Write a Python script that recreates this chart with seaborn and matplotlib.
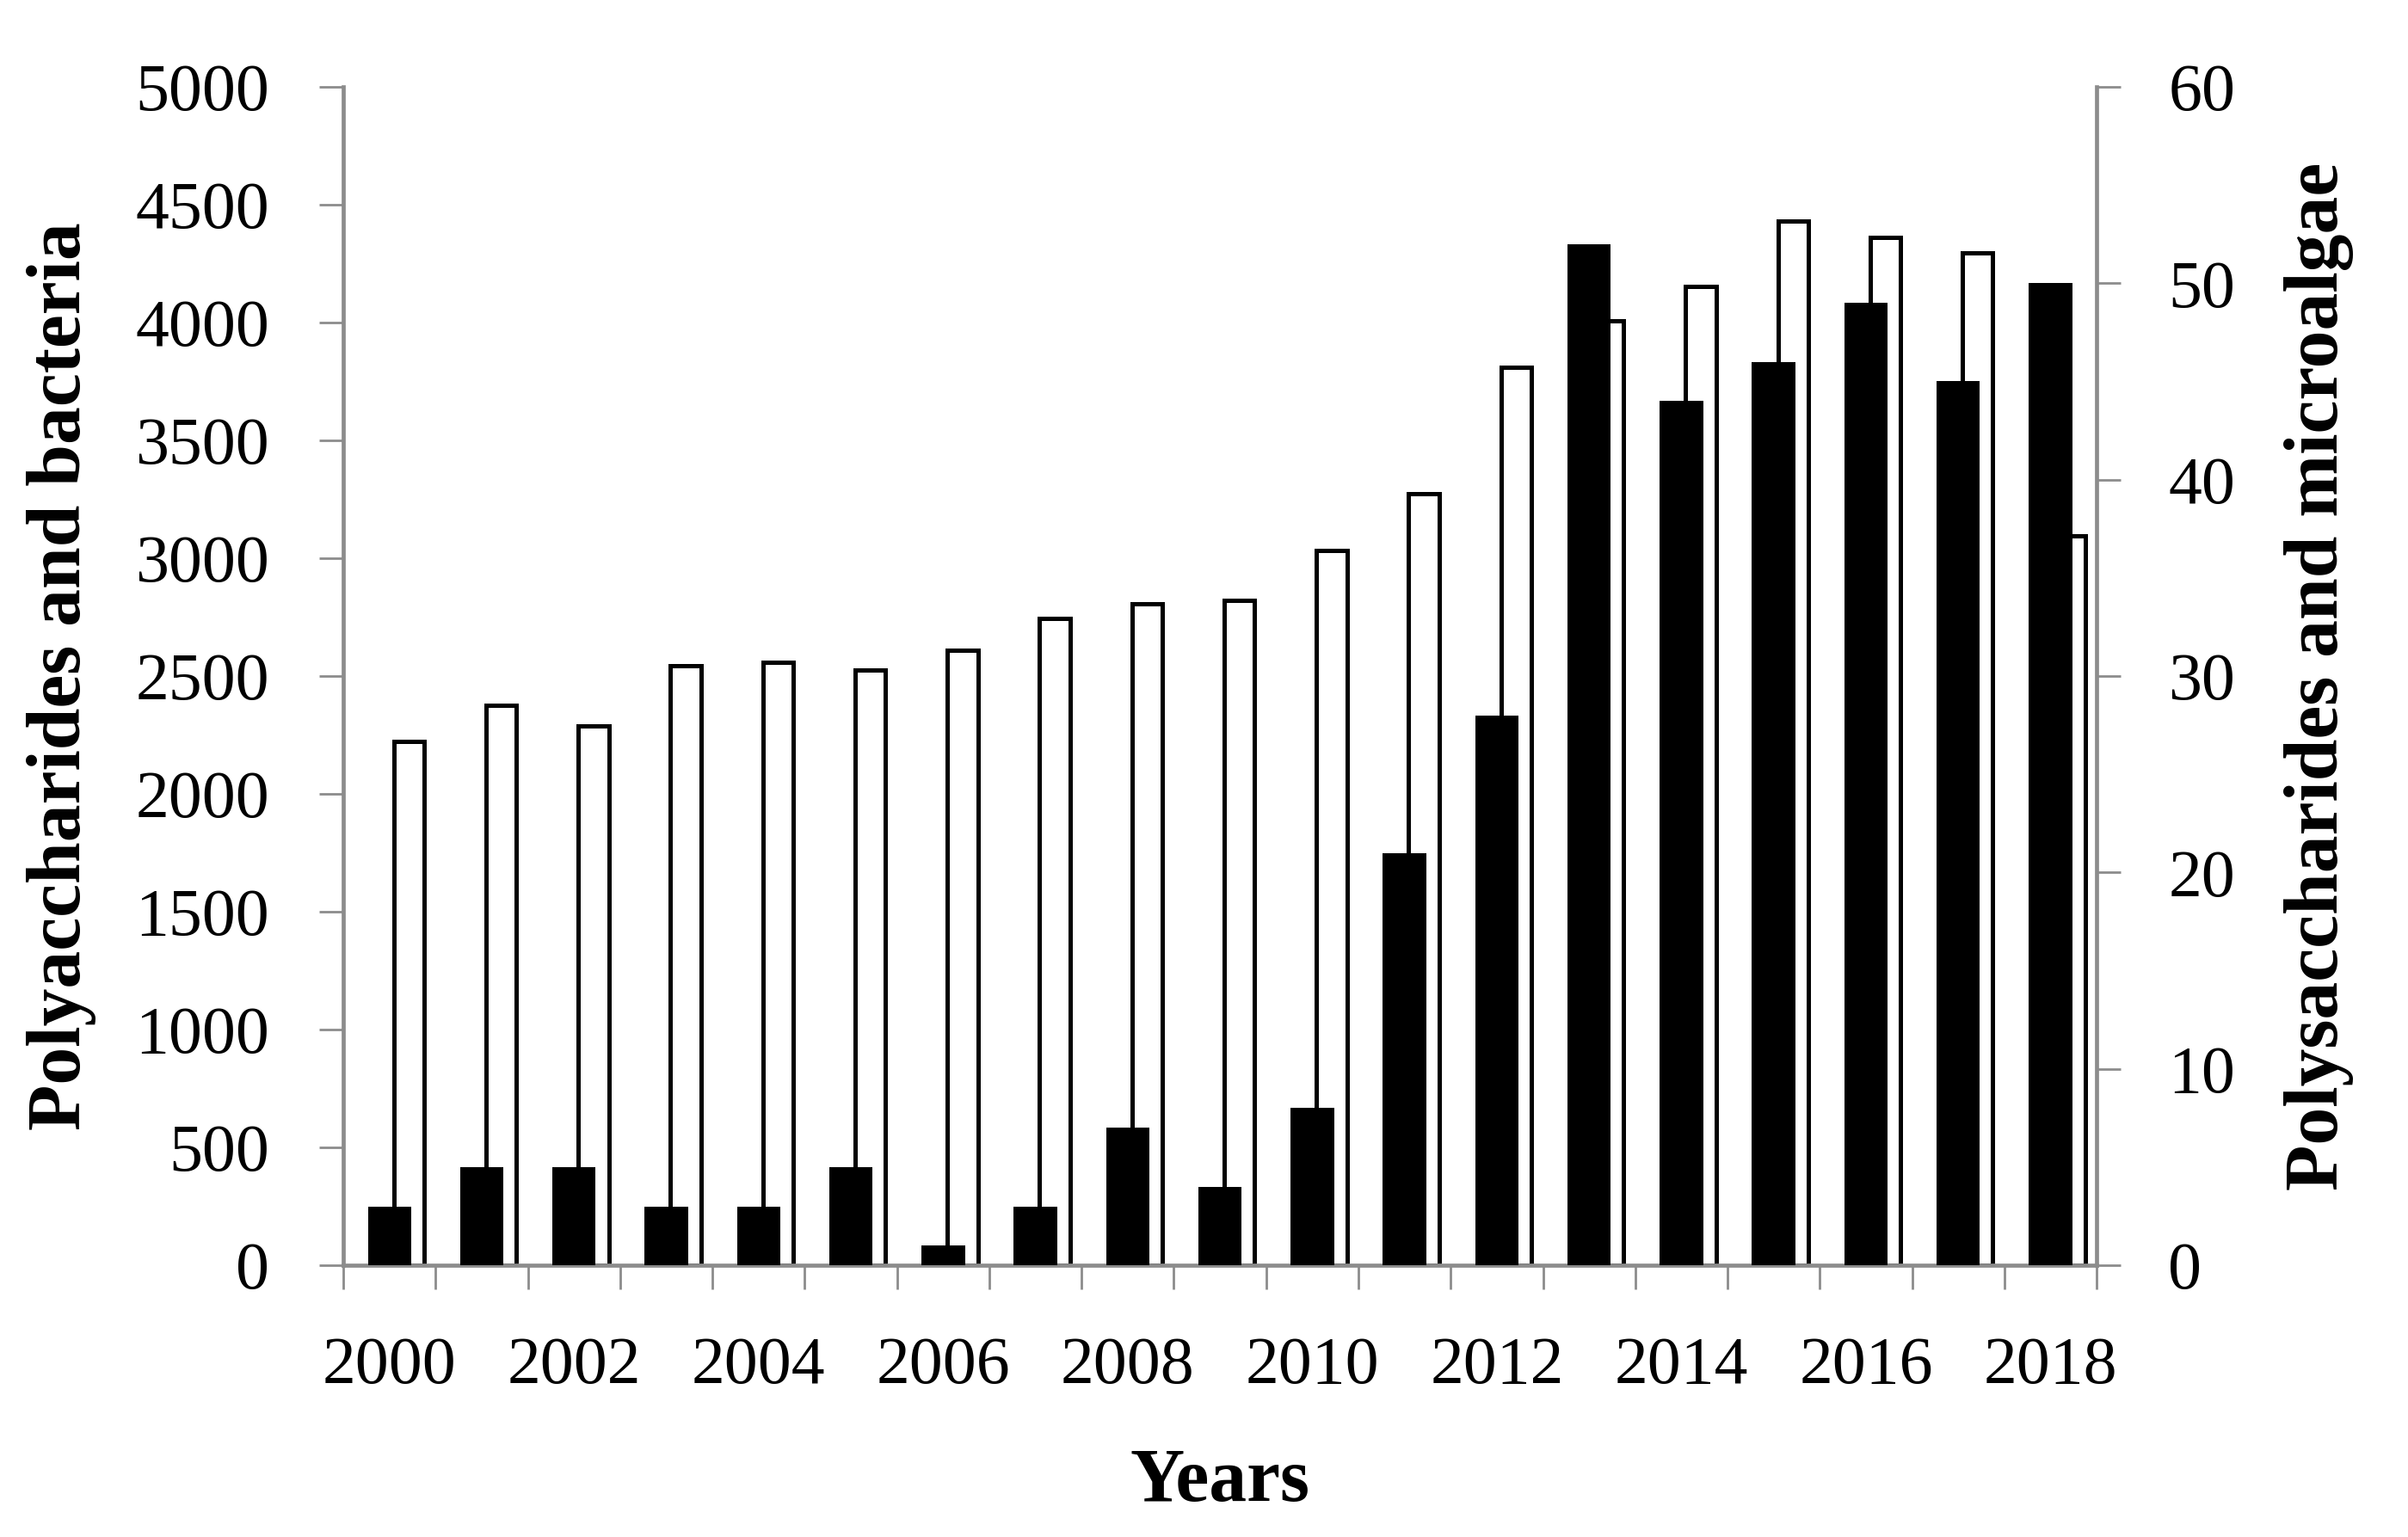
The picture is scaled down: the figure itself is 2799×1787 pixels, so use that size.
import matplotlib
matplotlib.use("Agg")
import matplotlib.pyplot as plt
import pandas as pd
import seaborn as sns

# values
years = list(range(2000, 2019))
bacteria = [2222, 2376, 2289, 2545, 2559, 2525, 2610, 2744, 2806, 2820,
            3032, 3272, 3809, 4009, 4154, 4429, 4360, 4296, 3095]
microalgae = [3, 5, 5, 3, 3, 5, 1, 3, 7, 4,
              8, 21, 28, 52, 44, 46, 49, 45, 50]
left_ticks = list(range(0, 5001, 500))
right_ticks = list(range(0, 61, 10))
year_labels = [str(y) for y in years[::2]]

sns.set_theme(style="white")
plt.rcParams["font.family"] = ["Liberation Serif", "DejaVu Serif"]
plt.rcParams["text.color"] = "black"
plt.rcParams["xtick.labelcolor"] = "black"
plt.rcParams["ytick.labelcolor"] = "black"
plt.rcParams["axes.labelcolor"] = "black"

grey = "#8c8c8c"
fs = 56
label_fs = 63

df = pd.DataFrame({"year": years, "bacteria": bacteria, "microalgae": microalgae})
df["x_white"] = df["year"] + 0.21  # white bars sit a bit to the right

fig = plt.figure(figsize=(27.99, 17.87), dpi=100)
ax = fig.add_axes([0.1426, 0.1768, 0.7281, 0.7667])
ax2 = ax.twinx()

sns.barplot(data=df, x="x_white", y="bacteria", native_scale=True, width=0.33,
            color="white", saturation=1, edgecolor="black", linewidth=3.6,
            errorbar=None, ax=ax)
sns.barplot(data=df, x="year", y="microalgae", native_scale=True, width=0.47,
            color="black", saturation=1, linewidth=0, errorbar=None, ax=ax2)

ax.set_xlim(years[0] - 0.5, years[-1] + 0.5)
ax.set_ylim(0, 5000)
ax2.set_ylim(0, 60)

# x ticks: labels every 2 years, tick marks on the category boundaries
ax.set_xticks(years[::2], year_labels)
ax.set_xticks([y - 0.5 for y in years] + [years[-1] + 0.5], minor=True)
ax.tick_params(axis="x", which="major", length=0, pad=59, labelsize=fs, labelcolor="black")
ax.tick_params(axis="x", which="minor", length=20, width=2, color=grey, direction="out", bottom=True)
ax.set_yticks(left_ticks)
ax.tick_params(axis="y", length=20, width=2, color=grey, direction="out", pad=42,
               labelsize=fs, left=True, labelcolor="black")
ax2.set_yticks(right_ticks)
ax2.tick_params(axis="y", length=20, width=2, color=grey, direction="out", pad=40,
                labelsize=fs, right=True, labelcolor="black")

for a in (ax, ax2):
    a.grid(False)
    a.spines["top"].set_visible(False)
ax.spines["right"].set_visible(False)
ax2.spines["left"].set_visible(False)
ax2.spines["bottom"].set_visible(False)
ax.spines["left"].set_color(grey)
ax.spines["bottom"].set_color(grey)
ax2.spines["right"].set_color(grey)
for s in ("left", "bottom"):
    ax.spines[s].set_linewidth(3.4)
ax2.spines["right"].set_linewidth(3.4)
ax.spines["bottom"].set_zorder(5)

ax.set_ylabel("Polyaccharides and bacteria", fontsize=label_fs, fontweight="bold", color="black")
ax.yaxis.label.set_va("center")
ax.yaxis.set_label_coords(-0.161, 0.5)
ax2.set_ylabel("Polysaccharides and microalgae", fontsize=label_fs, fontweight="bold",
               rotation=90, color="black")
ax2.yaxis.label.set_va("center")
ax2.yaxis.set_label_coords(1.127, 0.5)
ax.set_xlabel("Years", fontsize=label_fs, fontweight="bold", color="black")
ax.xaxis.label.set_va("center")
ax.xaxis.set_label_coords(0.5, -0.184)

fig.savefig("out.png", dpi=100, facecolor="white")
